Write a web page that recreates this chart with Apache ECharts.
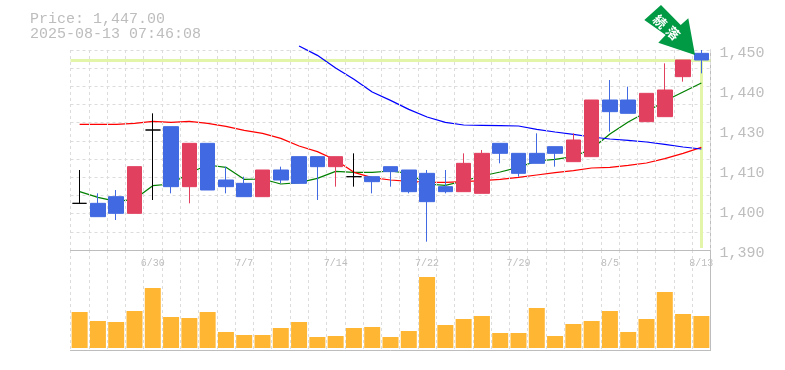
<!DOCTYPE html>
<html><head><meta charset="utf-8">
<style>html,body{margin:0;padding:0;background:#fff;overflow:hidden}#c{width:785px;height:370px}</style>
<script src="https://cdn.jsdelivr.net/npm/echarts@6/dist/echarts.min.js"></script>
</head><body><div id="c"></div>
<script>
const categories=['6/24','6/25','6/26','6/27','6/30','7/1','7/2','7/3','7/4','7/7','7/8','7/9','7/10','7/11','7/14','7/15','7/16','7/17','7/18','7/22','7/23','7/24','7/25','7/28','7/29','7/30','7/31','8/1','8/4','8/5','8/6','8/7','8/8','8/12','8/13'];
const shownDates=['6/30','7/7','7/14','7/22','7/29','8/5','8/13'];
const priceTicks=[1390,1402,1414,1426,1438,1450];
const priceLabels=['1,390','1,400','1,410','1,430','1,440','1,450'];
const open =[1404,1404,1406,1401,1426,1427,1409,1422,1411,1410,1406,1414,1418,1418,1415,1412,1412,1415,1414,1413,1409,1407.5,1407,1422,1419,1419,1421,1416.5,1418,1435,1435,1428.5,1430,1442,1449];
const close=[1404,1400,1401,1415,1426,1409,1422,1408,1409,1406,1414,1411,1410,1415,1418,1412,1410.5,1413.5,1407.5,1404.5,1407.5,1416,1419,1419,1413,1416,1419,1423,1435,1431.5,1431,1437,1438,1447,1447];
const low  =[1404,1400,1399,1401,1405,1407,1404,1408,1407,1406,1406,1410,1410,1405,1409,1409,1407,1409,1407,1392.5,1407,1407.5,1407,1416,1412,1416,1415,1416.5,1418,1425.5,1431,1428.5,1430,1440.5,1443];
const high =[1414,1407,1408,1415,1431,1427,1422,1422,1415,1412,1414,1415,1418,1418,1418,1419,1412,1415,1414,1414,1414,1419,1420,1422,1419,1425,1421,1425,1435,1441,1439,1437,1446,1447,1450];
const maShort=[1407.5,1405.8,1404.6,1405.2,1409.3,1409.8,1413.1,1415.5,1414.8,1411.2,1411.3,1409.8,1410.2,1411.5,1413.6,1413.3,1413.3,1413.7,1413,1409.8,1409.4,1410.7,1412.2,1413.4,1414.8,1416.7,1417.2,1418,1420.3,1424.8,1428.4,1431.4,1434.7,1437.4,1440.1];
const maMid=[1427.7,1427.7,1427.7,1428,1428.6,1428.3,1428.6,1428,1427.1,1425.9,1425,1423.5,1421.2,1419.5,1417,1413.3,1411.7,1411,1410.6,1410.3,1410.3,1410.5,1410.8,1411.2,1411.8,1412.5,1413.2,1413.8,1414.6,1414.8,1415.4,1416.1,1417.4,1419,1420.8];
const maLong=[null,null,null,null,null,null,null,null,null,null,null,null,1451.2,1448.4,1444.6,1441.2,1437.4,1434.9,1432.2,1429.9,1428.3,1427.5,1427.4,1427.3,1427.2,1426.2,1425.4,1424.7,1423.9,1423.3,1422.9,1422.4,1421.7,1420.9,1420.3];
const volume=[36,27,26,37,60,31,30,36,16,13,13,20,26,11,12,20,21,11,17,71,23,29,32,15,15,40,12,24,27,37,16,29,56,34,32];
const lastPrice=1447;
const header=['Price: 1,447.00','2025-08-13 07:46:08'];
const badge=['続','落'];

const MONO='"Liberation Mono",monospace';
const GRID='#dcdcdc', AXIS='#bdbdbd', TXT='#bdbdbd', HL='#e2f5a8';
const dashed={show:true,lineStyle:{color:GRID,type:[3,3],width:1}};
const candle=categories.map((_,i)=>[open[i],close[i],low[i],high[i]]);
const chart=echarts.init(document.getElementById('c'),null,{renderer:'canvas'});
const ma=(name,data,color)=>({name,type:'line',data,xAxisIndex:0,yAxisIndex:0,z:2,clip:false,showSymbol:false,symbol:'none',connectNulls:false,animation:false,lineStyle:{color,width:1.25}});
chart.setOption({
  animation:false,backgroundColor:'#fff',
  title:{show:false},
  grid:[
    {left:70.5,right:74.5,top:50,height:200},
    {left:70.5,right:74.5,top:250,height:100}
  ],
  xAxis:[
    {type:'category',gridIndex:0,data:categories,boundaryGap:true,
     axisLine:{show:true,onZero:false,lineStyle:{color:AXIS,width:1}},axisTick:{show:false},
     axisLabel:{interval:0,margin:8,color:TXT,fontFamily:MONO,fontSize:10,formatter:v=>shownDates.includes(v)?v:''},
     splitLine:Object.assign({interval:0},dashed),z:5},
    {type:'category',gridIndex:1,data:categories,boundaryGap:true,
     axisLine:{show:true,onZero:false,lineStyle:{color:AXIS,width:1}},axisTick:{show:false},axisLabel:{show:false},
     splitLine:Object.assign({interval:0},dashed)}
  ],
  yAxis:[
    {type:'value',gridIndex:0,position:'right',min:1390,max:1450,
     axisLine:{show:true,lineStyle:{color:AXIS,width:1}},axisTick:{show:false},splitLine:{show:false},
     axisLabel:{margin:9,color:TXT,fontFamily:MONO,fontSize:15,verticalAlign:'top',lineHeight:6,showMinLabel:true,showMaxLabel:true,hideOverlap:false,
       customValues:priceTicks,formatter:v=>priceLabels[priceTicks.indexOf(v)]||''}},
    {type:'value',gridIndex:0,position:'left',min:0,max:11,interval:1,
     axisLine:{show:false},axisTick:{show:false},axisLabel:{show:false},splitLine:dashed},
    {type:'value',gridIndex:1,position:'right',min:-2,max:98,
     axisLine:{show:true,lineStyle:{color:AXIS,width:1}},axisTick:{show:false},axisLabel:{show:false},splitLine:{show:false}}
  ],
  series:[
    {name:'last',type:'line',xAxisIndex:0,yAxisIndex:0,data:[],z:1,symbol:'none',
     markLine:{silent:true,symbol:'none',z:1,label:{show:false},animation:false,
       lineStyle:{color:HL,width:3,type:'solid'},
       data:[{yAxis:lastPrice},[{xAxis:categories.length-1,yAxis:lastPrice},{xAxis:categories.length-1,yAxis:1390.6}]]}},
    ma('MA5',maShort,'#008000'),
    ma('MA25',maMid,'#ff0000'),
    ma('MA75',maLong,'#0000ff'),
    {name:'Price',type:'candlestick',xAxisIndex:0,yAxisIndex:0,data:candle,barWidth:15,z:3,clip:false,
     itemStyle:{color:'#e2405f',color0:'#4169e1',borderColor:'#e2405f',borderColor0:'#4169e1',borderColorDoji:'#000',borderWidth:1}},
    {name:'Volume',type:'bar',xAxisIndex:1,yAxisIndex:2,data:volume,barWidth:16,itemStyle:{color:'#ffb733'},z:3}
  ],
  graphic:[
    {type:'text',left:30,top:12,style:{text:header[0],fill:TXT,font:'15px '+MONO}},
    {type:'text',left:30,top:27,style:{text:header[1],fill:TXT,font:'15px '+MONO}},
    {type:'polygon',z:20,shape:{points:[[661,5],[644.3,20],[665.7,35],[658.3,42.7],[695,55],[688.3,18.3],[680.7,25]]},style:{fill:'#009944'}},
    {type:'text',z:21,x:660,y:21.5,rotation:-Math.PI/4,style:{text:badge[0],fill:'#fff',font:'bold 13px "Noto Sans CJK JP"',align:'center',verticalAlign:'middle'}},
    {type:'text',z:21,x:673,y:33,rotation:-Math.PI/4,style:{text:badge[1],fill:'#fff',font:'bold 13px "Noto Sans CJK JP"',align:'center',verticalAlign:'middle'}}
  ]
});
</script></body></html>
